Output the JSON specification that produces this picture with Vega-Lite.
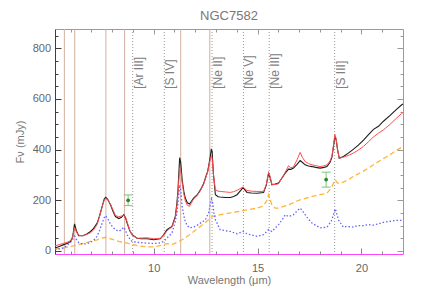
{
  "$schema": "https://vega.github.io/schema/vega-lite/v6.json",
  "autosize": {"type": "none"},
  "padding": {"left": 55, "top": 29, "right": 33, "bottom": 37},
  "width": 348,
  "height": 225,
  "config": {"font": "Liberation Sans", "view": {"stroke": null}},
  "title": {"text": "NGC7582", "fontSize": 13, "fontWeight": "normal", "color": "#777777", "offset": 6, "anchor": "middle"},
  "datasets": {
    "black": [
      {"w":5.25,"f":12},{"w":5.45,"f":18},{"w":5.67,"f":25},{"w":5.85,"f":30},{"w":6.0,"f":38},{"w":6.1,"f":55},{"w":6.19,"f":107},{"w":6.28,"f":80},{"w":6.39,"f":60},{"w":6.6,"f":60},{"w":6.8,"f":68},{"w":6.96,"f":77},{"w":7.1,"f":88},{"w":7.28,"f":110},{"w":7.4,"f":140},{"w":7.52,"f":176},{"w":7.62,"f":205},{"w":7.69,"f":212},{"w":7.78,"f":205},{"w":7.92,"f":182},{"w":8.05,"f":155},{"w":8.16,"f":136},{"w":8.32,"f":128},{"w":8.45,"f":133},{"w":8.56,"f":143},{"w":8.65,"f":130},{"w":8.72,"f":110},{"w":8.85,"f":80},{"w":8.96,"f":64},{"w":9.2,"f":50},{"w":9.4,"f":48},{"w":9.68,"f":48},{"w":9.85,"f":46},{"w":10.0,"f":44},{"w":10.15,"f":46},{"w":10.32,"f":48},{"w":10.48,"f":64},{"w":10.64,"f":84},{"w":10.88,"f":97},{"w":11.04,"f":136},{"w":11.12,"f":190},{"w":11.17,"f":241},{"w":11.25,"f":368},{"w":11.3,"f":350},{"w":11.37,"f":281},{"w":11.45,"f":235},{"w":11.52,"f":209},{"w":11.62,"f":190},{"w":11.72,"f":185},{"w":11.82,"f":196},{"w":11.92,"f":209},{"w":12.1,"f":222},{"w":12.25,"f":241},{"w":12.4,"f":265},{"w":12.49,"f":288},{"w":12.6,"f":315},{"w":12.64,"f":333},{"w":12.72,"f":370},{"w":12.77,"f":400},{"w":12.81,"f":395},{"w":12.88,"f":300},{"w":12.97,"f":222},{"w":13.1,"f":214},{"w":13.2,"f":213},{"w":13.45,"f":211},{"w":13.69,"f":211},{"w":13.85,"f":215},{"w":14.01,"f":222},{"w":14.2,"f":240},{"w":14.3,"f":251},{"w":14.4,"f":240},{"w":14.49,"f":231},{"w":14.7,"f":229},{"w":14.97,"f":228},{"w":15.29,"f":231},{"w":15.42,"f":260},{"w":15.53,"f":307},{"w":15.6,"f":290},{"w":15.69,"f":261},{"w":15.85,"f":264},{"w":16.01,"f":268},{"w":16.15,"f":285},{"w":16.33,"f":307},{"w":16.49,"f":323},{"w":16.6,"f":322},{"w":16.73,"f":327},{"w":16.9,"f":342},{"w":17.05,"f":357},{"w":17.15,"f":350},{"w":17.29,"f":340},{"w":17.45,"f":335},{"w":17.62,"f":333},{"w":17.8,"f":330},{"w":18.01,"f":327},{"w":18.2,"f":330},{"w":18.34,"f":333},{"w":18.49,"f":350},{"w":18.58,"f":370},{"w":18.65,"f":410},{"w":18.72,"f":450},{"w":18.78,"f":440},{"w":18.85,"f":400},{"w":18.93,"f":366},{"w":19.13,"f":373},{"w":19.4,"f":388},{"w":19.62,"f":402},{"w":19.85,"f":418},{"w":20.1,"f":437},{"w":20.35,"f":460},{"w":20.58,"f":480},{"w":20.82,"f":492},{"w":21.06,"f":512},{"w":21.38,"f":535},{"w":21.7,"f":560},{"w":21.94,"f":577},{"w":22.0,"f":580}
    ],
    "red": [
      {"w":5.25,"f":20},{"w":5.45,"f":25},{"w":5.67,"f":30},{"w":5.85,"f":35},{"w":6.0,"f":40},{"w":6.1,"f":55},{"w":6.19,"f":92},{"w":6.28,"f":75},{"w":6.39,"f":62},{"w":6.6,"f":60},{"w":6.8,"f":66},{"w":6.96,"f":72},{"w":7.1,"f":82},{"w":7.28,"f":105},{"w":7.4,"f":138},{"w":7.52,"f":175},{"w":7.62,"f":200},{"w":7.69,"f":206},{"w":7.78,"f":203},{"w":7.92,"f":185},{"w":8.05,"f":160},{"w":8.16,"f":140},{"w":8.32,"f":135},{"w":8.45,"f":138},{"w":8.56,"f":141},{"w":8.65,"f":132},{"w":8.72,"f":115},{"w":8.85,"f":82},{"w":8.96,"f":62},{"w":9.2,"f":50},{"w":9.4,"f":51},{"w":9.68,"f":52},{"w":9.85,"f":50},{"w":10.0,"f":48},{"w":10.15,"f":49},{"w":10.32,"f":50},{"w":10.48,"f":60},{"w":10.64,"f":80},{"w":10.88,"f":95},{"w":11.04,"f":130},{"w":11.12,"f":180},{"w":11.17,"f":230},{"w":11.25,"f":327},{"w":11.3,"f":318},{"w":11.37,"f":270},{"w":11.45,"f":225},{"w":11.52,"f":198},{"w":11.62,"f":180},{"w":11.72,"f":176},{"w":11.82,"f":190},{"w":11.92,"f":205},{"w":12.1,"f":220},{"w":12.25,"f":238},{"w":12.4,"f":262},{"w":12.49,"f":285},{"w":12.6,"f":312},{"w":12.64,"f":330},{"w":12.72,"f":360},{"w":12.77,"f":373},{"w":12.81,"f":368},{"w":12.88,"f":300},{"w":12.97,"f":241},{"w":13.1,"f":236},{"w":13.2,"f":235},{"w":13.45,"f":233},{"w":13.69,"f":231},{"w":13.85,"f":234},{"w":14.01,"f":239},{"w":14.2,"f":248},{"w":14.3,"f":252},{"w":14.4,"f":245},{"w":14.49,"f":239},{"w":14.7,"f":236},{"w":14.97,"f":235},{"w":15.29,"f":235},{"w":15.42,"f":262},{"w":15.53,"f":311},{"w":15.6,"f":295},{"w":15.69,"f":263},{"w":15.85,"f":262},{"w":16.01,"f":265},{"w":16.15,"f":285},{"w":16.33,"f":310},{"w":16.49,"f":336},{"w":16.6,"f":328},{"w":16.73,"f":332},{"w":16.9,"f":360},{"w":17.05,"f":389},{"w":17.15,"f":370},{"w":17.29,"f":353},{"w":17.45,"f":345},{"w":17.62,"f":340},{"w":17.8,"f":337},{"w":18.01,"f":333},{"w":18.2,"f":336},{"w":18.34,"f":340},{"w":18.49,"f":355},{"w":18.58,"f":375},{"w":18.65,"f":415},{"w":18.72,"f":460},{"w":18.78,"f":445},{"w":18.85,"f":400},{"w":18.93,"f":366},{"w":19.13,"f":370},{"w":19.4,"f":378},{"w":19.62,"f":387},{"w":19.85,"f":398},{"w":20.1,"f":413},{"w":20.35,"f":432},{"w":20.58,"f":450},{"w":20.82,"f":465},{"w":21.06,"f":478},{"w":21.38,"f":500},{"w":21.7,"f":525},{"w":21.94,"f":543},{"w":22.0,"f":546}
    ],
    "blue": [
      {"w":5.25,"f":5},{"w":5.67,"f":12},{"w":6.0,"f":34},{"w":6.1,"f":45},{"w":6.2,"f":58},{"w":6.3,"f":42},{"w":6.4,"f":32},{"w":6.6,"f":27},{"w":6.8,"f":29},{"w":6.96,"f":34},{"w":7.1,"f":42},{"w":7.28,"f":58},{"w":7.4,"f":82},{"w":7.52,"f":110},{"w":7.62,"f":132},{"w":7.69,"f":139},{"w":7.8,"f":125},{"w":7.92,"f":106},{"w":8.05,"f":92},{"w":8.16,"f":84},{"w":8.32,"f":78},{"w":8.45,"f":84},{"w":8.56,"f":94},{"w":8.65,"f":80},{"w":8.72,"f":64},{"w":8.85,"f":48},{"w":8.96,"f":38},{"w":9.2,"f":34},{"w":9.68,"f":31},{"w":10.0,"f":29},{"w":10.32,"f":32},{"w":10.48,"f":38},{"w":10.64,"f":51},{"w":10.88,"f":71},{"w":11.04,"f":116},{"w":11.12,"f":150},{"w":11.17,"f":188},{"w":11.25,"f":261},{"w":11.3,"f":240},{"w":11.37,"f":175},{"w":11.45,"f":140},{"w":11.52,"f":116},{"w":11.62,"f":100},{"w":11.72,"f":91},{"w":11.92,"f":94},{"w":12.1,"f":102},{"w":12.25,"f":110},{"w":12.49,"f":123},{"w":12.64,"f":150},{"w":12.72,"f":180},{"w":12.78,"f":205},{"w":12.84,"f":190},{"w":12.9,"f":150},{"w":12.97,"f":123},{"w":13.2,"f":84},{"w":13.45,"f":80},{"w":13.69,"f":77},{"w":14.01,"f":68},{"w":14.3,"f":77},{"w":14.49,"f":68},{"w":14.7,"f":63},{"w":14.97,"f":58},{"w":15.29,"f":64},{"w":15.53,"f":84},{"w":15.69,"f":77},{"w":15.85,"f":90},{"w":16.01,"f":104},{"w":16.2,"f":125},{"w":16.33,"f":143},{"w":16.49,"f":136},{"w":16.73,"f":143},{"w":16.9,"f":158},{"w":17.05,"f":169},{"w":17.15,"f":160},{"w":17.29,"f":143},{"w":17.45,"f":125},{"w":17.62,"f":110},{"w":18.01,"f":91},{"w":18.34,"f":94},{"w":18.54,"f":116},{"w":18.66,"f":145},{"w":18.74,"f":166},{"w":18.82,"f":145},{"w":18.89,"f":123},{"w":19.13,"f":94},{"w":19.3,"f":97},{"w":19.62,"f":94},{"w":19.8,"f":100},{"w":20.1,"f":100},{"w":20.3,"f":104},{"w":20.58,"f":102},{"w":21.06,"f":113},{"w":21.38,"f":117},{"w":21.7,"f":121},{"w":22.0,"f":121}
    ],
    "orange": [
      {"w":5.25,"f":8},{"w":5.67,"f":12},{"w":6.0,"f":18},{"w":6.4,"f":25},{"w":6.96,"f":38},{"w":7.28,"f":44},{"w":7.52,"f":51},{"w":7.69,"f":54},{"w":7.92,"f":48},{"w":8.32,"f":38},{"w":8.72,"f":31},{"w":9.2,"f":21},{"w":9.68,"f":16},{"w":10.0,"f":16},{"w":10.32,"f":21},{"w":10.64,"f":29},{"w":10.88,"f":25},{"w":11.04,"f":31},{"w":11.37,"f":44},{"w":11.72,"f":64},{"w":12.25,"f":97},{"w":12.64,"f":123},{"w":12.81,"f":136},{"w":12.97,"f":139},{"w":13.69,"f":150},{"w":14.3,"f":159},{"w":14.97,"f":169},{"w":15.29,"f":178},{"w":15.45,"f":200},{"w":15.53,"f":222},{"w":15.6,"f":205},{"w":15.69,"f":182},{"w":15.85,"f":169},{"w":16.01,"f":169},{"w":16.49,"f":182},{"w":17.05,"f":202},{"w":17.62,"f":215},{"w":18.01,"f":222},{"w":18.34,"f":228},{"w":18.54,"f":248},{"w":18.66,"f":268},{"w":18.74,"f":281},{"w":18.85,"f":268},{"w":18.97,"f":268},{"w":19.13,"f":272},{"w":19.45,"f":285},{"w":19.62,"f":295},{"w":20.1,"f":315},{"w":20.58,"f":340},{"w":21.06,"f":365},{"w":21.38,"f":380},{"w":21.7,"f":398},{"w":22.0,"f":412}
    ],
    "pah": [{"w":5.7},{"w":6.2},{"w":7.7},{"w":8.6},{"w":11.3},{"w":12.7}],
    "ions": [
      {"w":8.99,"label":"[Ar III]"},{"w":10.51,"label":"[S IV]"},{"w":12.81,"label":"[Ne II]"},{"w":14.32,"label":"[Ne V]"},{"w":15.56,"label":"[Ne III]"},{"w":18.71,"label":"[S III]"}
    ],
    "phot": [{"w":8.77,"f":200,"lo":179,"hi":221},{"w":18.3,"f":282,"lo":252,"hi":311}]
  },
  "resolve": {"axis": {"x": "independent", "y": "independent"}},
  "layer": [
    {
      "data": {"name": "pah"},
      "mark": {"type": "rule", "color": "#d3b0a0", "strokeWidth": 1},
      "encoding": {"x": {"field": "w", "type": "quantitative", "scale": {"domain": [5.25, 22], "nice": false, "zero": false}, "axis": null}}
    },
    {
      "data": {"name": "ions"},
      "mark": {"type": "rule", "color": "#999999", "strokeWidth": 1, "strokeDash": [1, 2]},
      "encoding": {"x": {"field": "w", "type": "quantitative", "axis": null}}
    },
    {
      "data": {"name": "ions"},
      "mark": {"type": "text", "angle": 270, "align": "left", "baseline": "top", "dy": 1, "fontSize": 12, "color": "#808080"},
      "encoding": {
        "x": {"field": "w", "type": "quantitative", "axis": null},
        "y": {"datum": 640, "type": "quantitative", "axis": null},
        "text": {"field": "label"}
      }
    },
    {
      "data": {"name": "orange"},
      "mark": {"type": "line", "color": "#ffb43c", "strokeWidth": 1.3, "strokeDash": [5, 3]},
      "encoding": {
        "x": {"field": "w", "type": "quantitative", "axis": {"orient": "top", "values": [6,7,8,9,11,12,13,14,16,17,18,19,21], "tickSize": -3, "labels": false, "domain": false, "title": null, "grid": false, "tickColor": "#999999"}},
        "y": {"field": "f", "type": "quantitative", "axis": {"orient": "right", "values": [50,100,150,250,300,350,450,500,550,650,700,750,850], "tickSize": -3, "labels": false, "domain": false, "title": null, "grid": false, "tickColor": "#999999"}}
      }
    },
    {
      "data": {"name": "blue"},
      "mark": {"type": "line", "color": "#6464ff", "strokeWidth": 1.3, "strokeDash": [1.5, 2]},
      "encoding": {
        "x": {"field": "w", "type": "quantitative", "axis": {"orient": "top", "values": [10, 15, 20], "tickSize": -5, "labels": false, "domainColor": "#9a9a9a", "title": null, "grid": false, "tickColor": "#999999"}},
        "y": {"field": "f", "type": "quantitative", "axis": {"orient": "right", "values": [0,200,400,600,800], "tickSize": -6, "labels": false, "domainColor": "#9a9a9a", "title": null, "grid": false, "tickColor": "#999999"}}
      }
    },
    {
      "data": {"name": "black"},
      "mark": {"type": "line", "color": "#1c1c1c", "strokeWidth": 1.1},
      "encoding": {
        "x": {"field": "w", "type": "quantitative", "axis": {"orient": "bottom", "values": [10, 15, 20], "tickSize": -6, "labelPadding": 14, "labelFontSize": 11, "labelColor": "#666666", "domainColor": "#ff44ff", "tickColor": "#888888", "title": "Wavelength (μm)", "titleFontSize": 11, "titleFontWeight": "normal", "titleColor": "#777777", "titlePadding": 1, "grid": false}},
        "y": {"field": "f", "type": "quantitative", "scale": {"domain": [-12, 876], "nice": false, "zero": false}, "axis": {"orient": "left", "values": [0,200,400,600,800], "tickSize": -6, "labelPadding": 10.5, "labelFontSize": 11, "labelColor": "#666666", "domainColor": "#4a3a34", "tickColor": "#4a3a34", "title": "Fν (mJy)", "titleFontSize": 11, "titleFontWeight": "normal", "titleColor": "#777777", "titlePadding": 7, "grid": false}}
      }
    },
    {
      "data": {"name": "red"},
      "mark": {"type": "line", "color": "#ff4d4d", "strokeWidth": 1},
      "encoding": {
        "x": {"field": "w", "type": "quantitative", "axis": {"orient": "bottom", "values": [6,7,8,9,11,12,13,14,16,17,18,19,21], "tickSize": -3, "labels": false, "domain": false, "title": null, "grid": false, "tickColor": "#888888"}},
        "y": {"field": "f", "type": "quantitative", "axis": {"orient": "left", "values": [50,100,150,250,300,350,450,500,550,650,700,750,850], "tickSize": -3, "labels": false, "domain": false, "title": null, "grid": false, "tickColor": "#4a3a34"}}
      }
    },
    {
      "data": {"name": "phot"},
      "mark": {"type": "rule", "color": "#7cc47c", "strokeWidth": 1},
      "encoding": {
        "x": {"field": "w", "type": "quantitative", "axis": null},
        "y": {"field": "lo", "type": "quantitative", "axis": null},
        "y2": {"field": "hi"}
      }
    },
    {
      "data": {"name": "phot"},
      "mark": {"type": "tick", "orient": "horizontal", "size": 9, "thickness": 1, "color": "#7cc47c", "opacity": 1},
      "encoding": {
        "x": {"field": "w", "type": "quantitative", "axis": null},
        "y": {"field": "lo", "type": "quantitative", "axis": null}
      }
    },
    {
      "data": {"name": "phot"},
      "mark": {"type": "tick", "orient": "horizontal", "size": 9, "thickness": 1, "color": "#7cc47c", "opacity": 1},
      "encoding": {
        "x": {"field": "w", "type": "quantitative", "axis": null},
        "y": {"field": "hi", "type": "quantitative", "axis": null}
      }
    },
    {
      "data": {"name": "phot"},
      "mark": {"type": "point", "filled": true, "size": 14, "color": "#1f8a1f", "opacity": 1},
      "encoding": {
        "x": {"field": "w", "type": "quantitative", "axis": null},
        "y": {"field": "f", "type": "quantitative", "axis": null}
      }
    }
  ]
}
